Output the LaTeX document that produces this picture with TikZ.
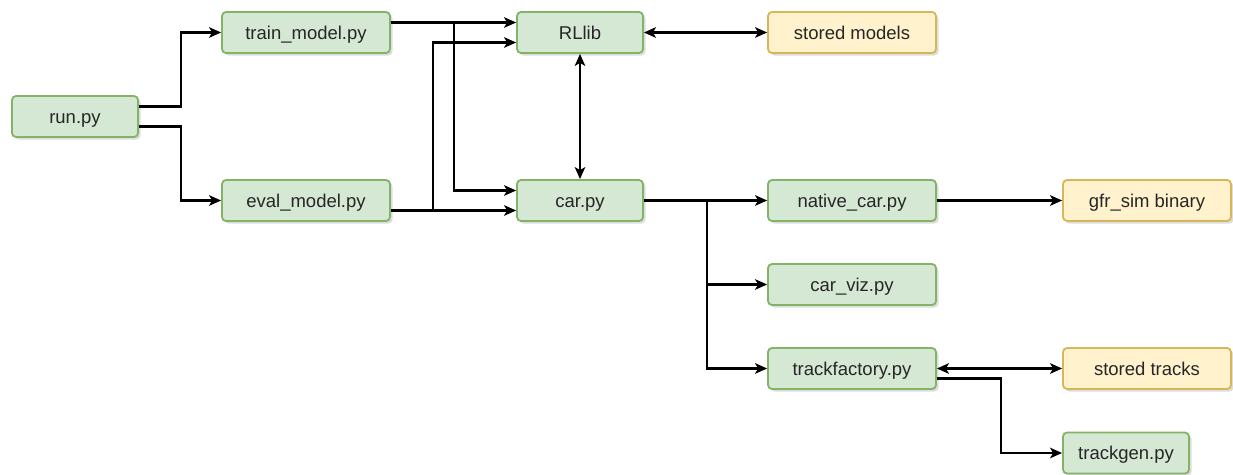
\documentclass[tikz,border=0pt]{standalone}
\usepackage{fontspec}
\setmainfont{Liberation Sans}
\usetikzlibrary{arrows.meta,shadows}
\definecolor{gfill}{HTML}{D5E8D4}
\definecolor{gline}{HTML}{82B366}
\definecolor{yfill}{HTML}{FFF2CC}
\definecolor{yline}{HTML}{D6B656}
\begin{document}
\begin{tikzpicture}[x=1pt,y=-1pt,
  box/.style={rounded corners=4pt,line width=1.8pt,minimum height=41pt,inner sep=0pt,
    text height=16pt,text depth=3pt,
    font=\fontsize{18.5}{22}\selectfont,text=black!85,
    drop shadow={shadow xshift=2.5pt,shadow yshift=-2.5pt,opacity=0.22,fill=black!60}},
  code/.style={box,fill=gfill,draw=gline},
  store/.style={box,fill=yfill,draw=yline},
  w126/.style={minimum width=126pt},
  w168/.style={minimum width=168pt},
  arr/.style={line width=2.1pt,-{Stealth[length=12pt,width=10.5pt,inset=3pt]}},
  biarr/.style={line width=2.1pt,{Stealth[length=12pt,width=10.5pt,inset=3pt]}-{Stealth[length=12pt,width=10.5pt,inset=3pt]}}]
\useasboundingbox (0,0) rectangle (1233,474);

% modules and stores
\node[code,w126] (run)      at (75,116.5)   {run.py};
\node[code,w168] (train)    at (306,32.5)   {train\_model.py};
\node[code,w168] (eval)     at (306,200.5)  {eval\_model.py};
\node[code,w126] (rllib)    at (580,32.5)   {RLlib};
\node[code,w126] (car)      at (580,200.5)  {car.py};
\node[store,w168] (smodels) at (852,32.5)   {stored models};
\node[code,w168] (native)   at (852,200.5)  {native\_car.py};
\node[code,w168] (carviz)   at (852,284.5)  {car\_viz.py};
\node[code,w168] (trackf)   at (852,368.5)  {trackfactory.py};
\node[store,w168] (gfr)     at (1147,200.5) {gfr\_sim binary};
\node[store,w168] (stracks) at (1147,368.5) {stored tracks};
\node[code,w126] (trackgen) at (1126,453)   {trackgen.py};

% run.py dispatches to training and evaluation
\draw[arr] ([yshift=10pt]run.east) -- ++(42,0) |- (train.west);
\draw[arr] ([yshift=-10pt]run.east) -- ++(42,0) |- (eval.west);

% training script
\draw[arr] ([yshift=10pt]train.east) -- ([yshift=10pt]rllib.west);
\draw[arr] ([yshift=10pt]train.east) -- ++(63,0) |- ([yshift=10pt]car.west);

% evaluation script
\draw[arr] ([yshift=-10pt]eval.east) -- ([yshift=-10pt]car.west);
\draw[arr] ([yshift=-10pt]eval.east) -- ++(42,0) |- ([yshift=-10pt]rllib.west);

% RLlib links
\draw[biarr] (rllib.south) -- (car.north);
\draw[biarr] (rllib.east) -- (smodels.west);

% car.py fans out
\draw[arr] (car.east) -- (native.west);
\draw[arr] (car.east) -- ++(63,0) |- (carviz.west);
\draw[arr] (car.east) -- ++(63,0) |- (trackf.west);

\draw[arr] (native.east) -- (gfr.west);

% track handling
\draw[biarr] (trackf.east) -- (stracks.west);
\draw[arr] ([yshift=-10pt]trackf.east) -- ++(64,0) |- (trackgen.west);
\end{tikzpicture}
\end{document}
